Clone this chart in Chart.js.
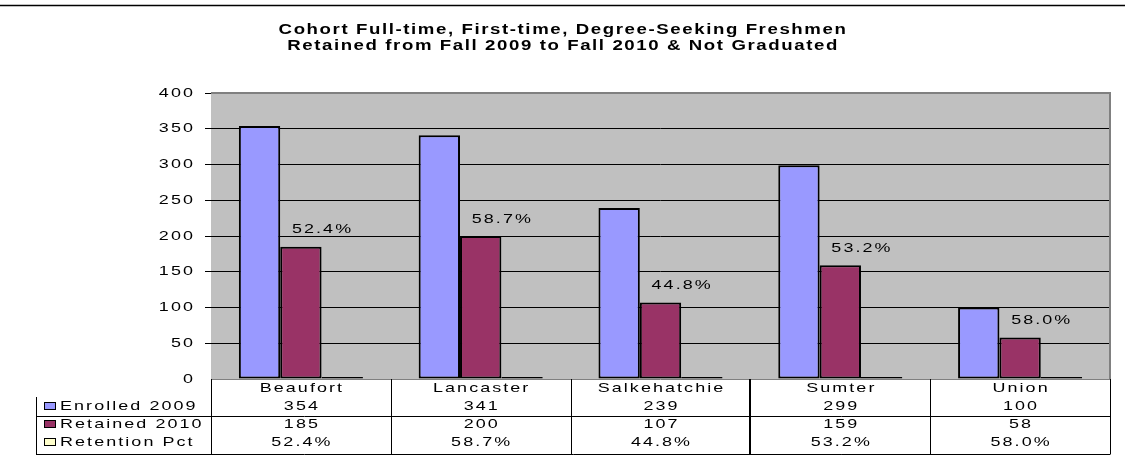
<!DOCTYPE html>
<html>
<head>
<meta charset="utf-8">
<script src="https://cdn.jsdelivr.net/npm/chart.js@4/dist/chart.umd.min.js"></script>
<style>
    html, body { margin: 0; padding: 0; background: #fff; }
    #wrap { width: 1125px; height: 474px; position: relative; }
</style>
</head>
<body>
<div id="wrap"><canvas id="retentionChart"></canvas></div>
<script>
// Chart data
const titleLines = ['Cohort Full-time, First-time, Degree-Seeking Freshmen', 'Retained from Fall 2009 to Fall 2010 & Not Graduated'];
const categories = ['Beaufort', 'Lancaster', 'Salkehatchie', 'Sumter', 'Union'];
const enrolled2009 = [354, 341, 239, 299, 100];
const retained2010 = [185, 200, 107, 159, 58];
const retentionPct = [0.524, 0.587, 0.448, 0.532, 0.580];
const yTicks = [0, 50, 100, 150, 200, 250, 300, 350, 400];
const seriesNames = ['Enrolled 2009', 'Retained 2010', 'Retention Pct'];
const seriesColors = ['#9999ff', '#993366', '#ffffcc'];

const FONT = '"Liberation Sans", Arial, sans-serif';

function pctText(v) {
    return (v * 100).toFixed(1) + '%';
}

// The original text is drawn wide, so stretch it horizontally
function wideText(ctx, text, x, y, align, stretch) {
    ctx.save();
    ctx.translate(x, y);
    ctx.scale(stretch || 1.38, 1);
    ctx.textAlign = align || 'center';
    ctx.fillText(text, 0, 0);
    ctx.restore();
}

// Gray plot background
const plotBackground = {
    id: 'plotBackground',
    beforeDraw(chart) {
        const ctx = chart.ctx;
        const a = chart.chartArea;
        ctx.save();
        ctx.fillStyle = '#c0c0c0';
        ctx.fillRect(a.left, a.top, a.right - a.left, a.bottom - a.top);
        ctx.restore();
    }
};

// Title, borders, labels and the data table
const extras = {
    id: 'extras',
    afterDraw(chart) {
        const ctx = chart.ctx;
        const a = chart.chartArea;
        const x = chart.scales.x;
        const y = chart.scales.y;
        ctx.save();

        // top rule
        ctx.strokeStyle = '#000';
        ctx.lineWidth = 1.5;
        ctx.beginPath();
        ctx.moveTo(0, 5.5);
        ctx.lineTo(1125, 5.5);
        ctx.stroke();

        // title
        ctx.fillStyle = '#000';
        ctx.textBaseline = 'middle';
        ctx.font = 'bold 14px ' + FONT;
        ctx.letterSpacing = '1.2px';
        titleLines.forEach((t, i) => wideText(ctx, t, 563, 30 + i * 16, 'center', 1.33));

        // plot border
        ctx.strokeStyle = '#808080';
        ctx.lineWidth = 2;
        ctx.beginPath();
        ctx.moveTo(a.left, a.top);
        ctx.lineTo(a.right, a.top);
        ctx.lineTo(a.right, a.bottom);
        ctx.stroke();

        ctx.font = '13px ' + FONT;
        ctx.letterSpacing = '1.5px';

        // y tick labels
        yTicks.forEach(v => wideText(ctx, String(v), 195, y.getPixelForValue(v), 'right'));

        // percent labels above retained bars
        const metaR = chart.getDatasetMeta(1);
        metaR.data.forEach((bar, i) => {
            wideText(ctx, pctText(retentionPct[i]), bar.x + bar.width / 2 + 1, bar.y - 17);
        });

        // data table
        const step = x.getPixelForValue(1) - x.getPixelForValue(0);
        const tableBottom = 454;
        ctx.strokeStyle = '#000';
        for (let i = 0; i <= categories.length; i++) {
            const px = Math.round(x.getPixelForValue(i) - step / 2);
            ctx.lineWidth = i === 3 ? 2 : 1;
            ctx.beginPath();
            ctx.moveTo(px + (i === 3 ? 0 : 0.5), a.bottom);
            ctx.lineTo(px + (i === 3 ? 0 : 0.5), tableBottom);
            ctx.stroke();
        }
        ctx.lineWidth = 1;
        ctx.beginPath();
        ctx.moveTo(36.5, 397);
        ctx.lineTo(36.5, tableBottom);
        ctx.moveTo(36, 416.5);
        ctx.lineTo(a.right, 416.5);
        ctx.moveTo(36, tableBottom + 0.5);
        ctx.lineTo(a.right + 0.5, tableBottom + 0.5);
        ctx.stroke();

        const rows = [
            enrolled2009.map(String),
            retained2010.map(String),
            retentionPct.map(pctText)
        ];
        const rowY = [406, 424, 442];

        categories.forEach((c, i) => {
            const cx = x.getPixelForValue(i) + 1;
            wideText(ctx, c, cx, 388);
            rows.forEach((r, j) => wideText(ctx, r[i], cx, rowY[j]));
        });

        // legend keys and row names
        seriesNames.forEach((n, j) => {
            ctx.fillStyle = seriesColors[j];
            ctx.fillRect(44, rowY[j] - 4, 11, 7);
            ctx.strokeStyle = '#000';
            ctx.strokeRect(44.5, rowY[j] - 3.5, 11, 7);
            ctx.fillStyle = '#000';
            wideText(ctx, n, 60, rowY[j], 'left');
        });

        ctx.restore();
    }
};

const barStyle = {
    borderColor: '#000',
    borderWidth: 2,
    borderSkipped: false,
    categoryPercentage: 0.69,
    barPercentage: 1
};

new Chart(document.getElementById('retentionChart'), {
    type: 'bar',
    data: {
        labels: categories,
        datasets: [
            Object.assign({ label: seriesNames[0], data: enrolled2009, backgroundColor: seriesColors[0] }, barStyle),
            Object.assign({ label: seriesNames[1], data: retained2010, backgroundColor: seriesColors[1] }, barStyle),
            Object.assign({ label: seriesNames[2], data: retentionPct, backgroundColor: seriesColors[2], minBarLength: 2 }, barStyle)
        ]
    },
    options: {
        responsive: true,
        maintainAspectRatio: false,
        animation: false,
        layout: {
            padding: { left: 161, right: 15, top: 93, bottom: 95 }
        },
        plugins: {
            legend: { display: false },
            title: { display: false },
            tooltip: { enabled: false }
        },
        scales: {
            x: {
                display: false
            },
            y: {
                min: 0,
                max: 400,
                afterFit(scale) { scale.width = 50; },
                afterBuildTicks(scale) { scale.ticks = yTicks.map(v => ({ value: v })); },
                border: { display: false },
                grid: {
                    color: ctx => {
                        if (!ctx.tick) return '#000';
                        if (ctx.tick.value === 400) return 'rgba(0,0,0,0)';
                        if (ctx.tick.value === 0) return '#808080';
                        return '#000';
                    },
                    tickColor: ctx => ctx.tick && ctx.tick.value === 0 ? 'rgba(0,0,0,0)' : '#000',
                    lineWidth: 1,
                    tickLength: 6,
                    drawTicks: true
                },
                ticks: {
                    display: false
                }
            }
        }
    },
    plugins: [plotBackground, extras]
});
</script>
</body>
</html>
